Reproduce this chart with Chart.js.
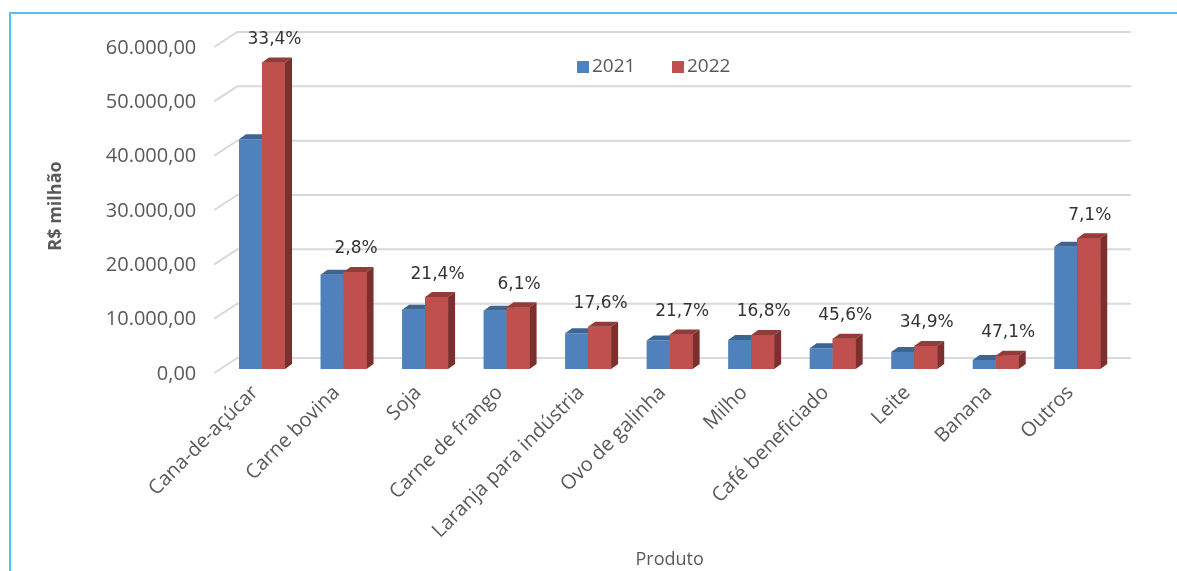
<!DOCTYPE html>
<html lang="pt-BR">
<head>
<meta charset="utf-8">
<title>Valor da produção por produto</title>
<script src="https://cdn.jsdelivr.net/npm/chart.js@4/dist/chart.umd.min.js"></script>
<style>
  html, body { margin: 0; padding: 0; background: #fff; }
  #wrap { position: relative; width: 1177px; height: 571px; }
  #moldura {
    position: absolute; left: 9px; top: 12px; right: 0; bottom: 0;
    border-top: 2px solid #52c3ee; border-left: 2px solid #52c3ee;
    pointer-events: none;
  }
</style>
</head>
<body>
<div id="wrap">
  <canvas id="grafico" width="1177" height="571"></canvas>
  <div id="moldura"></div>
</div>
<script>
// Valor da produção (R$ milhão) por produto, 2021 x 2022
const categorias = ['Cana-de-açúcar', 'Carne bovina', 'Soja', 'Carne de frango', 'Laranja para indústria',
  'Ovo de galinha', 'Milho', 'Café beneficiado', 'Leite', 'Banana', 'Outros'];
const valores2021 = [42300, 17350, 10900, 10700, 6600, 5230, 5350, 3830, 3150, 1650, 22480];
const valores2022 = [56430, 17840, 13230, 11350, 7760, 6360, 6250, 5580, 4250, 2430, 24080];
const variacao = ['33,4%', '2,8%', '21,4%', '6,1%', '17,6%', '21,7%', '16,8%', '45,6%', '34,9%', '47,1%', '7,1%'];

const corTexto = '#595959';
const PROF_X = 7, PROF_Y = -5; // profundidade das barras "3D"

// 60000 -> "60.000,00"
function formatoBR(v) {
  const [inteiro, dec] = v.toFixed(2).split('.');
  return inteiro.replace(/\B(?=(\d{3})+(?!\d))/g, '.') + ',' + dec;
}

// grade de fundo com as diagonais da parede lateral
const gradeFundo = {
  id: 'gradeFundo',
  beforeDatasetsDraw(chart) {
    const { ctx, chartArea, scales: { y } } = chart;
    ctx.save();
    ctx.strokeStyle = '#d9d9d9';
    ctx.lineWidth = 2;
    y.ticks.forEach(t => {
      const py = y.getPixelForValue(t.value);
      ctx.beginPath();
      ctx.moveTo(chartArea.left - 7, py + 4);
      ctx.lineTo(chartArea.left + 16, py - 11);
      ctx.lineTo(chartArea.right + 13, py - 11);
      ctx.stroke();
    });
    ctx.restore();
  }
};

function faces(ctx, bar, ds, frente) {
  const x0 = bar.x - bar.width / 2, x1 = bar.x + bar.width / 2;
  const topo = bar.y, base = bar.base;
  if (frente) {
    ctx.fillStyle = ds.backgroundColor;
    ctx.fillRect(x0, topo, x1 - x0, base - topo);
  }
  ctx.fillStyle = ds.corTopo;
  ctx.beginPath();
  ctx.moveTo(x0, topo);
  ctx.lineTo(x1, topo);
  ctx.lineTo(x1 + PROF_X, topo + PROF_Y);
  ctx.lineTo(x0 + PROF_X, topo + PROF_Y);
  ctx.closePath();
  ctx.fill();
  ctx.fillStyle = ds.corLado;
  ctx.beginPath();
  ctx.moveTo(x1, topo);
  ctx.lineTo(x1 + PROF_X, topo + PROF_Y);
  ctx.lineTo(x1 + PROF_X, base + PROF_Y);
  ctx.lineTo(x1, base);
  ctx.closePath();
  ctx.fill();
}

// faces de topo e lateral; a série 2022 fica na frente da lateral de 2021
const barras3D = {
  id: 'barras3D',
  afterDatasetsDraw(chart) {
    const { ctx } = chart;
    const [d21, d22] = chart.data.datasets;
    const m21 = chart.getDatasetMeta(0).data, m22 = chart.getDatasetMeta(1).data;
    ctx.save();
    m21.forEach(bar => faces(ctx, bar, d21, false));
    m22.forEach(bar => faces(ctx, bar, d22, true));
    ctx.restore();
  }
};

// variação percentual acima das barras de 2022 + legenda
const rotulos = {
  id: 'rotulos',
  afterDraw(chart) {
    const { ctx } = chart;
    const meta = chart.getDatasetMeta(1);
    ctx.save();
    ctx.font = '17px "DejaVu Sans"';
    ctx.fillStyle = '#333';
    ctx.textAlign = 'center';
    ctx.textBaseline = 'middle';
    meta.data.forEach((bar, i) => {
      ctx.fillText(variacao[i], bar.x + 1, bar.y - 23);
    });

    // legenda
    ctx.font = '19px "Open Sans"';
    ctx.textAlign = 'left';
    let x = 577;
    chart.data.datasets.forEach(ds => {
      ctx.fillStyle = ds.backgroundColor;
      ctx.fillRect(x, 61, 12, 12);
      ctx.fillStyle = corTexto;
      ctx.fillText(ds.label, x + 15, 67);
      x += 95;
    });
    ctx.restore();
  }
};

new Chart(document.getElementById('grafico'), {
  type: 'bar',
  data: {
    labels: categorias,
    datasets: [
      { label: '2021', data: valores2021, backgroundColor: '#4f81bd', corTopo: '#3c6494', corLado: '#3a5f8c' },
      { label: '2022', data: valores2022, backgroundColor: '#c0504d', corTopo: '#923b38', corLado: '#7c2f2d' }
    ]
  },
  options: {
    responsive: false,
    animation: false,
    categoryPercentage: 0.5644,
    barPercentage: 1,
    layout: { padding: { left: 40, right: 59, top: 43, bottom: 0 } },
    plugins: {
      legend: { display: false },
      tooltip: { enabled: false }
    },
    scales: {
      x: {
        grid: { display: false, drawTicks: false },
        border: { display: false },
        ticks: {
          autoSkip: false, minRotation: 45, maxRotation: 45, padding: 12, labelOffset: -7,
          color: corTexto, font: { family: 'Open Sans', size: 20 }
        },
        title: { display: true, text: 'Produto', color: corTexto, padding: 0, font: { family: 'Open Sans', size: 18 } },
        afterFit: s => { s.height = 202; }
      },
      y: {
        min: 0, max: 60000,
        grid: { display: false, drawTicks: false },
        border: { display: false },
        ticks: {
          stepSize: 10000, padding: 25, labelOffset: 5,
          color: corTexto, font: { family: 'Open Sans', size: 20 },
          callback: v => formatoBR(v)
        },
        title: { display: true, text: 'R$ milhão', color: corTexto, padding: { top: 5, bottom: 0 }, font: { family: 'Open Sans', size: 18, weight: 'bold' } },
        afterFit: s => { s.width = 181.25; }
      }
    }
  },
  plugins: [gradeFundo, barras3D, rotulos]
});
</script>
</body>
</html>
